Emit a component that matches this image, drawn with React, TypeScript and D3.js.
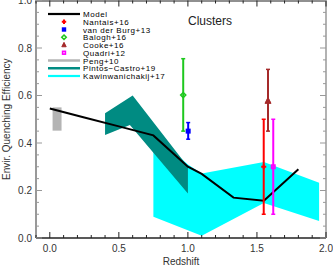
import React from "react";
import * as d3 from "d3";

// model curve
const modelZ = [0.0, 0.25, 0.5, 0.75, 1.0, 1.1, 1.33, 1.55, 1.8];
const modelQ = [0.545, 0.507, 0.47, 0.432, 0.3, 0.27, 0.17, 0.157, 0.289];

// Peng+10 box
const pengZ = [0.02, 0.085];
const pengQ = [0.452, 0.55];

// Pintos-Castro+19 band
const pintosUpperZ = [0.4, 0.6, 1.0];
const pintosUpper = [0.525, 0.6, 0.3];
const pintosLowerZ = [0.4, 0.58, 1.0];
const pintosLower = [0.434, 0.476, 0.187];

// Kawinwanichakij+17 band
const kawUpperZ = [0.75, 1.0, 1.1, 1.55, 1.95];
const kawUpper = [0.44, 0.31, 0.272, 0.32, 0.233];
const kawLowerZ = [0.75, 1.1, 1.55, 1.95];
const kawLower = [0.09, 0.01, 0.147, 0.072];

// cluster points: name, z, value, low, high
const clusterNames = ["Nantais+16", "van der Burg+13", "Balogh+16", "Cooke+16", "Quadri+12"];
const clusterZ = [1.549, 1.002, 0.966, 1.58, 1.618];
const clusterQ = [0.3, 0.45, 0.602, 0.577, 0.3];
const clusterLo = [0.1, 0.416, 0.45, 0.45, 0.1];
const clusterHi = [0.5, 0.486, 0.755, 0.71, 0.5];

const legendLabels = [
  "Model",
  "Nantais+16",
  "van der Burg+13",
  "Balogh+16",
  "Cooke+16",
  "Quadri+12",
  "Peng+10",
  "Pintos\u2212Castro+19",
  "Kawinwanichakij+17",
];

const xTicks = [0, 0.5, 1.0, 1.5, 2.0];
const xTickLabels = ["0.0", "0.5", "1.0", "1.5", "2.0"];
const yTicks = [0, 0.2, 0.4, 0.6, 0.8, 1.0];
const yTickLabels = ["0.0", "0.2", "0.4", "0.6", "0.8", "1.0"];

const width = 333;
const height = 266;
const margin = { top: 0.5, right: 7, bottom: 28, left: 36 };
const font = "'Liberation Sans', Arial, Helvetica, sans-serif";

const clusterColors = ["#ff0000", "#0000ff", "#1ec81e", "#a52a2a", "#ff00ff"];

const App = () => {
  const x = d3
    .scaleLinear()
    .domain([-0.1, 2.0])
    .range([margin.left, width - margin.right]);
  const y = d3
    .scaleLinear()
    .domain([0, 1])
    .range([height - margin.bottom, margin.top]);

  const x0 = x.range()[0];
  const x1 = x.range()[1];
  const y0 = y.range()[0];
  const y1 = y.range()[1];

  const line = d3
    .line<[number, number]>()
    .x((d) => x(d[0]))
    .y((d) => y(d[1]));

  const band = (uz: number[], u: number[], lz: number[], l: number[]) => {
    const pts: [number, number][] = uz.map((z, i) => [z, u[i]] as [number, number]);
    const low: [number, number][] = lz.map((z, i) => [z, l[i]] as [number, number]).reverse();
    return line(pts.concat(low)) + "Z";
  };

  const modelPts = modelZ.map((z, i) => [z, modelQ[i]] as [number, number]);

  const minorX = d3.range(-0.1, 2.0001, 0.1);
  const minorY = d3.range(0, 1.0001, 0.05);

  const marker = (i: number, cx: number, cy: number, s: number) => {
    const c = clusterColors[i];
    if (i === 0) {
      return (
        <path
          d={`M${cx - s},${cy}H${cx + s}M${cx},${cy - s}V${cy + s}`}
          stroke={c}
          strokeWidth={2}
        />
      );
    }
    if (i === 1) {
      return <rect x={cx - s} y={cy - s} width={2 * s} height={2 * s} fill={c} />;
    }
    if (i === 2) {
      return (
        <path
          d={`M${cx},${cy - s}L${cx + s},${cy}L${cx},${cy + s}L${cx - s},${cy}Z`}
          fill="none"
          stroke={c}
          strokeWidth={1.6}
        />
      );
    }
    if (i === 3) {
      return (
        <path
          d={`M${cx},${cy - s * 1.2}L${cx + s},${cy + s * 0.8}L${cx - s},${cy + s * 0.8}Z`}
          fill={c}
          stroke={c}
          strokeWidth={1}
        />
      );
    }
    return (
      <rect
        x={cx - s + 0.8}
        y={cy - s + 0.8}
        width={2 * s - 1.6}
        height={2 * s - 1.6}
        fill="none"
        stroke={c}
        strokeWidth={1.6}
      />
    );
  };

  const legX0 = 48;
  const legX1 = 80;
  const legY = 14;
  const legDy = 7.75;

  return (
    <svg
      width={width}
      height={height}
      style={{ position: "absolute", left: 0, top: 0, background: "#fff" }}
      fontFamily={font}
    >
      {/* bands */}
      <path d={band(kawUpperZ, kawUpper, kawLowerZ, kawLower)} fill="#00ffff" />
      <path d={band(pintosUpperZ, pintosUpper, pintosLowerZ, pintosLower)} fill="#008b82" />
      <rect
        x={x(pengZ[0])}
        y={y(pengQ[1])}
        width={x(pengZ[1]) - x(pengZ[0])}
        height={y(pengQ[0]) - y(pengQ[1])}
        fill="#b4b4b4"
      />

      <path d={line(modelPts) || ""} fill="none" stroke="#000" strokeWidth={2} />

      {/* cluster error bars */}
      {clusterNames.map((n, i) => {
        const cx = x(clusterZ[i]);
        const c = clusterColors[i];
        return (
          <g key={n}>
            <line x1={cx} x2={cx} y1={y(clusterLo[i])} y2={y(clusterHi[i])} stroke={c} strokeWidth={2} />
            <line x1={cx - 2} x2={cx + 2} y1={y(clusterLo[i])} y2={y(clusterLo[i])} stroke={c} strokeWidth={1.5} />
            <line x1={cx - 2} x2={cx + 2} y1={y(clusterHi[i])} y2={y(clusterHi[i])} stroke={c} strokeWidth={1.5} />
            {marker(i, cx, y(clusterQ[i]), i === 3 ? 3 : 2.5)}
          </g>
        );
      })}

      {/* axes frame */}
      <line x1={x0} x2={x1} y1={y0} y2={y0} stroke="#222" strokeWidth={1.5} />
      <line x1={x0} x2={x1} y1={y1 + 0.5} y2={y1 + 0.5} stroke="#222" strokeWidth={1.2} />
      <line x1={x0} x2={x0} y1={y0} y2={y1} stroke="#999" strokeWidth={2} />
      <line x1={x1} x2={x1} y1={y0} y2={y1} stroke="#999" strokeWidth={1.5} />

      {minorX.map((v) => {
        const major = xTicks.some((t) => Math.abs(t - v) < 1e-6);
        const len = major ? 6 : 3;
        return (
          <g key={"x" + v.toFixed(2)}>
            <line x1={x(v)} x2={x(v)} y1={y0} y2={y0 - len} stroke="#222" strokeWidth={1} />
            <line x1={x(v)} x2={x(v)} y1={y1} y2={y1 + len} stroke="#222" strokeWidth={1} />
          </g>
        );
      })}
      {minorY.map((v) => {
        const major = yTicks.some((t) => Math.abs(t - v) < 1e-6);
        const len = major ? 6 : 3;
        return (
          <g key={"y" + v.toFixed(2)}>
            <line x1={x0} x2={x0 + len} y1={y(v)} y2={y(v)} stroke="#999" strokeWidth={1} />
            <line x1={x1} x2={x1 - len} y1={y(v)} y2={y(v)} stroke="#999" strokeWidth={1} />
          </g>
        );
      })}

      {xTicks.map((t, i) => (
        <text key={"xl" + i} x={x(t)} y={251.5} textAnchor="middle" fontSize={10} fill="#333">
          {xTickLabels[i]}
        </text>
      ))}
      {yTicks.map((t, i) => (
        <text key={"yl" + i} x={32} y={y(t) + 3.5} textAnchor="end" fontSize={10} fill="#333">
          {yTickLabels[i]}
        </text>
      ))}

      <text x={(x0 + x1) / 2} y={264.5} textAnchor="middle" fontSize={10} fill="#333">
        Redshift
      </text>
      <text
        transform="rotate(-90)"
        x={-(y0 + y1) / 2}
        y={10}
        textAnchor="middle"
        fontSize={10}
        fill="#333"
      >
        Envir. Quenching Efficiency
      </text>

      <text x={188} y={25} fontSize={12} fill="#222">
        Clusters
      </text>

      {/* legend */}
      <g fontSize={8} letterSpacing={0.55} fill="#000">
        {legendLabels.map((lab, i) => {
          const ly = legY + i * legDy;
          let glyph: React.ReactNode = null;
          if (i === 0) {
            glyph = <line x1={legX0} x2={legX1} y1={ly} y2={ly} stroke="#000" strokeWidth={2.2} />;
          } else if (i <= 5) {
            glyph = marker(i - 1, (legX0 + legX1) / 2, ly, 2.2);
          } else if (i === 6) {
            glyph = <line x1={legX0} x2={legX1} y1={ly} y2={ly} stroke="#b4b4b4" strokeWidth={2.5} />;
          } else if (i === 7) {
            glyph = <line x1={legX0} x2={legX1} y1={ly} y2={ly} stroke="#008b82" strokeWidth={2.5} />;
          } else {
            glyph = <line x1={legX0} x2={legX1} y1={ly} y2={ly} stroke="#00ffff" strokeWidth={2.2} />;
          }
          return (
            <g key={lab}>
              {glyph}
              <text x={legX1 + 3} y={ly + 3}>
                {lab}
              </text>
            </g>
          );
        })}
      </g>
    </svg>
  );
};

export default App;
